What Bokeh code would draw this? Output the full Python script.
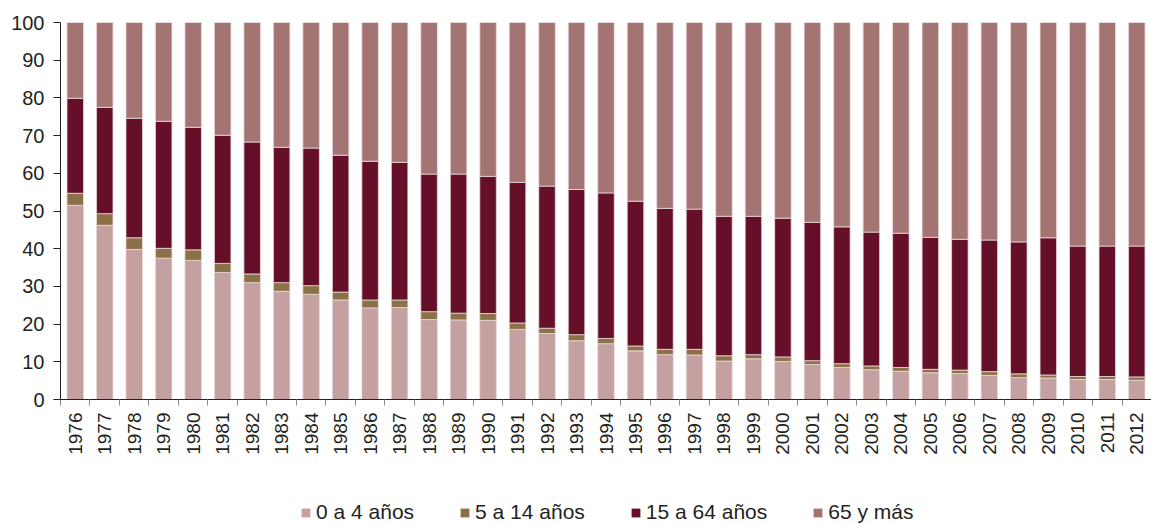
from bokeh.plotting import figure
from bokeh.layouts import column
from bokeh.models import (ColumnDataSource, Legend, LegendItem, Range1d, LinearAxis,
                          FixedTicker, CustomJSTickFormatter)
from bokeh.embed import file_html
from bokeh.resources import INLINE

years = ["1976", "1977", "1978", "1979", "1980", "1981", "1982", "1983", "1984", "1985",
         "1986", "1987", "1988", "1989", "1990", "1991", "1992", "1993", "1994", "1995",
         "1996", "1997", "1998", "1999", "2000", "2001", "2002", "2003", "2004", "2005",
         "2006", "2007", "2008", "2009", "2010", "2011", "2012"]

age_0_4 = [51.5, 46.2, 39.8, 37.5, 36.9, 33.7, 31.0, 28.7, 27.9, 26.4,
           24.3, 24.4, 21.2, 21.1, 21.0, 18.6, 17.5, 15.6, 14.8, 12.9,
           11.9, 11.8, 10.2, 10.8, 10.1, 9.3, 8.5, 7.9, 7.5, 7.1,
           6.9, 6.4, 5.8, 5.7, 5.3, 5.3, 5.1]
age_5_14 = [3.2, 3.1, 3.1, 2.6, 2.8, 2.4, 2.3, 2.3, 2.3, 2.1,
            2.1, 2.0, 2.1, 1.8, 1.8, 1.7, 1.4, 1.6, 1.4, 1.3,
            1.4, 1.5, 1.4, 1.1, 1.2, 1.0, 1.0, 1.0, 1.0, 0.9,
            0.9, 1.0, 1.0, 0.8, 0.8, 0.8, 0.9]
age_15_64 = [25.2, 28.2, 31.7, 33.7, 32.5, 34.0, 35.0, 35.9, 36.5, 36.3,
             36.8, 36.5, 36.5, 36.9, 36.4, 37.3, 37.7, 38.5, 38.6, 38.4,
             37.4, 37.2, 37.0, 36.7, 36.8, 36.7, 36.3, 35.5, 35.6, 35.0,
             34.7, 34.9, 35.0, 36.4, 34.6, 34.6, 34.7]
age_65 = [20.1, 22.5, 25.4, 26.2, 27.8, 29.9, 31.7, 33.1, 33.3, 35.2,
          36.8, 37.1, 40.2, 40.2, 40.8, 42.4, 43.4, 44.3, 45.2, 47.4,
          49.3, 49.5, 51.4, 51.4, 51.9, 53.0, 54.2, 55.6, 55.9, 57.0,
          57.5, 57.7, 58.2, 57.1, 59.3, 59.3, 59.3]

series_names = ["0 a 4 años", "5 a 14 años", "15 a 64 años", "65 y más"]
colors = ["#C4A0A0", "#8B7147", "#650F28", "#A47472"]
y_ticks = [0, 10, 20, 30, 40, 50, 60, 70, 80, 90, 100]

n = len(years)
centers = [i + 0.5 for i in range(n)]
source = ColumnDataSource(dict(x=centers, year=years, a=age_0_4, b=age_5_14,
                               c=age_15_64, d=age_65))

FONT = "Liberation Sans"
TXT = "#231F20"

p = figure(x_range=Range1d(0, n), y_range=Range1d(0, 100), width=1151, height=488,
           output_backend="svg", toolbar_location=None, x_axis_location=None,
           min_border_left=60, min_border_right=0, min_border_top=22, min_border_bottom=89)
p.outline_line_color = None
p.grid.visible = False
p.background_fill_color = "white"

p.vbar_stack(["a", "b", "c", "d"], x="x", width=0.56, color=colors,
             line_color="#EADADA", line_width=0.8, source=source)

# y axis
ya = p.yaxis[0]
ya.ticker = FixedTicker(ticks=y_ticks)
ya.minor_tick_line_color = None
ya.major_tick_out = 7
ya.major_tick_in = 0
ya.axis_line_color = "#231F20"
ya.major_tick_line_color = "#231F20"
ya.major_label_text_font = FONT
ya.major_label_text_font_size = "20px"
ya.major_label_text_color = TXT
ya.major_label_standoff = 9

# boundary tick axis (ticks between bars, no labels)
tick_axis = LinearAxis(ticker=FixedTicker(ticks=list(range(n + 1))),
                       formatter=CustomJSTickFormatter(code="return '';"))
tick_axis.major_label_standoff = 0
tick_axis.major_tick_out = 6
tick_axis.major_tick_in = 0
tick_axis.minor_tick_line_color = None
tick_axis.axis_line_color = "#231F20"
tick_axis.major_tick_line_color = "#8C8C8C"
p.add_layout(tick_axis, "below")

# year label axis (labels at bar centres, no ticks)
lab_axis = LinearAxis(ticker=FixedTicker(ticks=centers))
lab_axis.major_label_overrides = {c: y for c, y in zip(centers, years)}
lab_axis.axis_line_color = None
lab_axis.major_tick_line_color = None
lab_axis.minor_tick_line_color = None
lab_axis.major_tick_out = 0
lab_axis.major_tick_in = 0
lab_axis.major_label_orientation = 1.5708
lab_axis.major_label_text_font = FONT
lab_axis.major_label_text_font_size = "19px"
lab_axis.major_label_text_color = TXT
lab_axis.major_label_standoff = 7
p.add_layout(lab_axis, "below")

# legend strip (its own small figure; its glyphs are hidden, only the legend shows)
lg = figure(x_range=Range1d(0, n), y_range=Range1d(0, 100), width=1151, height=36,
            output_backend="svg", toolbar_location=None, x_axis_location=None,
            y_axis_location=None, min_border=0)
lg.outline_line_color = None
lg.grid.visible = False
lg_renderers = lg.vbar_stack(["a", "b", "c", "d"], x="x", width=0.56, color=colors,
                             line_color=None, source=source)
for r in lg_renderers:
    r.visible = False

legend = Legend(items=[LegendItem(label=nm, renderers=[r]) for nm, r in zip(series_names, lg_renderers)],
                orientation="horizontal", location=(240, 0))
legend.border_line_color = None
legend.background_fill_alpha = 0
legend.label_text_font = FONT
legend.label_text_font_size = "21px"
legend.label_text_color = TXT
legend.glyph_width = 11
legend.glyph_height = 11
legend.label_standoff = 5
legend.spacing = 45
legend.padding = 0
legend.margin = 0
legend.label_height = 20
legend.inactive_fill_alpha = 0
lg.add_layout(legend, "center")

open("out.html", "w").write(file_html(column(p, lg, spacing=0), INLINE))
